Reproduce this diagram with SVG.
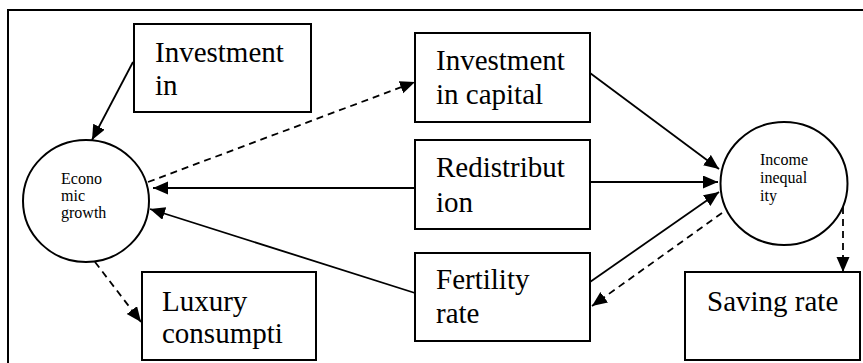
<svg xmlns="http://www.w3.org/2000/svg" width="863" height="363" viewBox="0 0 863 363">
<style>
.box{fill:#fff;stroke:#000;stroke-width:2}
.circ{fill:#fff;stroke:#000;stroke-width:2}
text{font-family:'Liberation Serif','DejaVu Serif',serif;fill:#000}
.t{font-size:29px}
.s{font-size:16px}
.c{fill:none;stroke:#000;stroke-width:1.8;marker-end:url(#ah)}
.d{stroke-dasharray:7,5}
</style>
<defs>
<marker id="ah" markerUnits="userSpaceOnUse" markerWidth="16" markerHeight="14" refX="15" refY="6.5" orient="auto">
<path d="M0,0 L15,6.5 L0,13 z" fill="#000"/>
</marker>
</defs>
<rect width="863" height="363" fill="#fff"/>
<path d="M8,363 V10 H863" fill="none" stroke="#000" stroke-width="2"/>
<g id="connectors">
<line class="c" x1="133" y1="62" x2="92" y2="140"/>
<line class="c d" x1="148" y1="182" x2="415" y2="82"/>
<line class="c" x1="415" y1="188" x2="153" y2="188"/>
<line class="c" x1="415" y1="293" x2="150" y2="209"/>
<line class="c d" x1="95" y1="262" x2="141" y2="322"/>
<line class="c" x1="590" y1="73" x2="719" y2="169"/>
<line class="c" x1="590" y1="182" x2="718" y2="182"/>
<line class="c" x1="590" y1="282" x2="719" y2="192"/>
<line class="c d" x1="722" y1="213" x2="592" y2="306"/>
<line class="c d" x1="843" y1="207" x2="843" y2="272"/>
</g>
<g id="investment-in">
<rect class="box" x="134" y="24" width="177" height="88"/>
<text class="t" x="155" y="62">Investment</text>
<text class="t" x="155" y="95">in</text>
</g>
<g id="economic-growth">
<ellipse class="circ" cx="86" cy="201" rx="63" ry="61"/>
<text class="s" x="61" y="184">Econo</text>
<text class="s" x="61" y="201">mic</text>
<text class="s" x="61" y="218">growth</text>
</g>
<g id="luxury-consumption">
<rect class="box" x="142" y="272" width="174" height="88"/>
<text class="t" x="162" y="311">Luxury</text>
<text class="t" x="162" y="343">consumpti</text>
</g>
<g id="investment-in-capital">
<rect class="box" x="415" y="33" width="175" height="89"/>
<text class="t" x="436" y="70">Investment</text>
<text class="t" x="436" y="104">in capital</text>
</g>
<g id="redistribution">
<rect class="box" x="415" y="140" width="175" height="89"/>
<text class="t" x="436" y="177">Redistribut</text>
<text class="t" x="436" y="212">ion</text>
</g>
<g id="fertility-rate">
<rect class="box" x="415" y="253" width="175" height="88"/>
<text class="t" x="436" y="289">Fertility</text>
<text class="t" x="436" y="323">rate</text>
</g>
<g id="income-inequality">
<ellipse class="circ" cx="784" cy="183.5" rx="63.5" ry="61.5"/>
<text class="s" x="760" y="165">Income</text>
<text class="s" x="760" y="183">inequal</text>
<text class="s" x="760" y="201">ity</text>
</g>
<g id="saving-rate">
<rect class="box" x="685" y="272" width="175" height="88"/>
<text class="t" x="707" y="311">Saving rate</text>
</g>
</svg>
